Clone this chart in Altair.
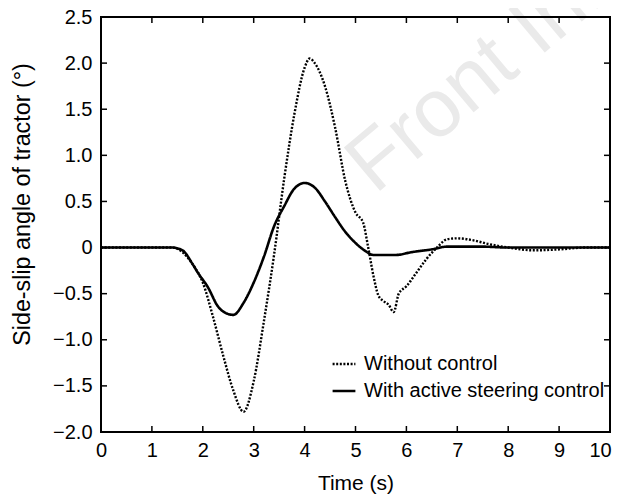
import altair as alt
import pandas as pd

# ---- data ----
t_without = [0, 1.0, 1.4, 1.6, 1.8, 2.0, 2.2, 2.4, 2.6, 2.8, 3.0, 3.2, 3.4, 3.6, 3.8,
             4.0, 4.1, 4.2, 4.4, 4.6, 4.8, 5.0, 5.15, 5.25, 5.35, 5.45, 5.55, 5.65,
             5.75, 5.85, 6.0, 6.2, 6.4, 6.6, 6.8, 7.0, 7.3, 7.6, 8.0, 8.5, 9.0, 9.5, 10]
v_without = [0, 0, 0.0, -0.05, -0.18, -0.38, -0.75, -1.17, -1.55, -1.78, -1.45, -0.8,
             -0.08, 0.75, 1.45, 1.95, 2.05, 2.0, 1.75, 1.3, 0.72, 0.38, 0.27, 0.0, -0.3,
             -0.52, -0.58, -0.62, -0.7, -0.5, -0.42, -0.27, -0.12, 0.0, 0.09, 0.1, 0.08,
             0.04, 0.0, -0.03, -0.02, 0.0, 0]

t_with = [0, 1.0, 1.4, 1.6, 1.8, 1.9, 2.1, 2.3, 2.45, 2.6, 2.8, 3.0, 3.2, 3.4, 3.6, 3.8,
          4.0, 4.2, 4.4, 4.6, 4.8, 5.0, 5.2, 5.35, 5.8, 6.1, 6.5, 6.8, 7.5, 8.0, 9.0, 10]
v_with = [0, 0, 0, -0.03, -0.18, -0.27, -0.43, -0.64, -0.71, -0.73, -0.6, -0.38, -0.1,
          0.23, 0.45, 0.64, 0.7, 0.65, 0.5, 0.33, 0.17, 0.05, -0.04, -0.08, -0.08, -0.05,
          -0.02, 0.01, 0.01, 0, 0, 0]

series_names = ["Without control", "With active steering control"]
x_ticks = [0, 1, 2, 3, 4, 5, 6, 7, 8, 9, 10]
y_ticks = [-2.0, -1.5, -1.0, -0.5, 0, 0.5, 1.0, 1.5, 2.0, 2.5]
x_title = "Time (s)"
y_title = "Side-slip angle of tractor (°)"
watermark = ["Front Info"]

W, H = 509, 415
FONT = "Liberation Sans"

df = pd.concat([
    pd.DataFrame({"t": t_without, "v": v_without, "series": series_names[0]}),
    pd.DataFrame({"t": t_with, "v": v_with, "series": series_names[1]}),
])
xt = pd.DataFrame({"x": x_ticks})
yt = pd.DataFrame({"y": y_ticks})

xs = alt.Scale(domain=[0, 10], nice=False, zero=False)
ys = alt.Scale(domain=[-2.0, 2.5], nice=False, zero=False)

wm = alt.Chart(pd.DataFrame({"txt": watermark})).mark_text(
    align="left", baseline="alphabetic", angle=320, fontSize=82, font=FONT,
    color="#eaeaea"
).encode(x=alt.value(274), y=alt.value(178), text="txt:N")

lines = alt.Chart(df).mark_line(strokeCap="butt", color="black", interpolate="monotone").encode(
    x=alt.X("t:Q", scale=xs,
            axis=alt.Axis(values=x_ticks, title=x_title, ticks=False, domain=False,
                          grid=False, labelPadding=8, labelFontSize=20, labelFlush=False,
                          labelOffset={"condition": {"test": "datum.value == 10", "value": -10},
                                       "value": 0},
                          labelFont=FONT, titleFont=FONT, labelColor="black",
                          titleColor="black",
                          titleFontSize=21, titleFontWeight="normal",
                          titleY=57, titleBaseline="alphabetic")),
    y=alt.Y("v:Q", scale=ys,
            axis=alt.Axis(values=y_ticks, title=y_title, ticks=False, domain=False,
                          grid=False, labelPadding=9, labelFontSize=20, labelFlush=False,
                          labelFont=FONT, titleFont=FONT, labelColor="black",
                          titleColor="black",
                          labelExpr="datum.value == 0 ? '0' : format(datum.value, '.1f')",
                          titleFontSize=23.3, titleFontWeight="normal",
                          titleX=-79, titleY=187, titleAngle=270,
                          titleAlign="center", titleBaseline="middle")),
    strokeDash=alt.StrokeDash("series:N",
        scale=alt.Scale(domain=series_names, range=[[2, 1.6], [1, 0]]),
        legend=alt.Legend(title=None, orient="none", legendX=230, legendY=334,
                          symbolType="stroke", symbolSize=520, symbolStrokeWidth=2,
                          symbolStrokeColor="black", labelFontSize=20, labelFont=FONT,
                          labelColor="black", labelOffset=7, rowPadding=4, padding=0,
                          labelLimit=500)),
    strokeWidth=alt.StrokeWidth("series:N",
        scale=alt.Scale(domain=series_names, range=[2.4, 2.6]), legend=None),
    order=alt.Order("t:Q"),
)

tick_len = 6
bx = alt.Chart(xt).mark_rule(color="black", strokeWidth=1.5).encode(
    x=alt.X("x:Q", scale=xs), y=alt.value(H), y2=alt.value(H - tick_len))
tx = alt.Chart(xt).mark_rule(color="black", strokeWidth=1.5).encode(
    x=alt.X("x:Q", scale=xs), y=alt.value(0), y2=alt.value(tick_len))
ly = alt.Chart(yt).mark_rule(color="black", strokeWidth=1.5).encode(
    y=alt.Y("y:Q", scale=ys), x=alt.value(0), x2=alt.value(tick_len))
ry = alt.Chart(yt).mark_rule(color="black", strokeWidth=1.5).encode(
    y=alt.Y("y:Q", scale=ys), x=alt.value(W), x2=alt.value(W - tick_len))

frame = alt.Chart(pd.DataFrame({"f": [0]})).mark_rect(
    fill="transparent", stroke="black", strokeWidth=2
).encode(x=alt.value(0), x2=alt.value(W), y=alt.value(0), y2=alt.value(H))

chart = alt.layer(wm, bx, tx, ly, ry, lines, frame).properties(
    width=W, height=H,
    autosize=alt.AutoSizeParams(type="none"),
    padding={"left": 93, "top": 9, "right": 3, "bottom": 62},
    background="white",
    view=alt.ViewBackground(stroke="transparent"),
)

chart.save("out.html", embed_options={"renderer": "svg", "actions": False})
